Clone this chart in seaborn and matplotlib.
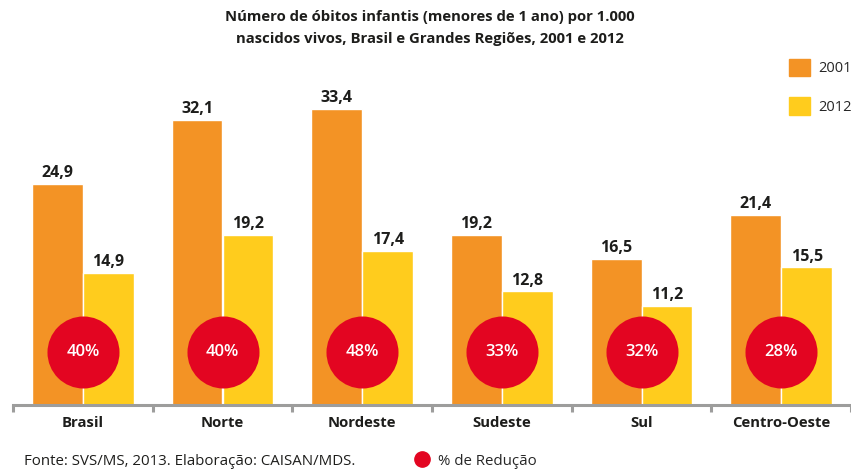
import numpy as np
import pandas as pd
import matplotlib
matplotlib.use("Agg")
import matplotlib.pyplot as plt
from matplotlib.patches import Patch
from matplotlib.lines import Line2D
import seaborn as sns

# dados do gráfico
regioes = ["Brasil", "Norte", "Nordeste", "Sudeste", "Sul", "Centro-Oeste"]
taxa_2001 = [24.9, 32.1, 33.4, 19.2, 16.5, 21.4]
taxa_2012 = [14.9, 19.2, 17.4, 12.8, 11.2, 15.5]
reducao = [40, 40, 48, 33, 32, 28]
anos = ["2001", "2012"]

cor_2001 = "#F39325"
cor_2012 = "#FFCC1D"
cor_red = "#E30521"
cinza = "#9D9D9C"
preto = "#1d1d1b"

df = pd.DataFrame({
    "regiao": regioes * 2,
    "ano": [anos[0]] * len(regioes) + [anos[1]] * len(regioes),
    "taxa": taxa_2001 + taxa_2012,
})

sns.set_style("white")
plt.rcParams["font.family"] = ["Open Sans", "DejaVu Sans"]

fig = plt.figure(figsize=(8.51, 4.69), dpi=100)
ax = fig.add_axes([13 / 851, 64 / 469, 838 / 851, 355 / 469])

sns.barplot(data=df, x="regiao", y="taxa", hue="ano", hue_order=anos,
            palette=[cor_2001, cor_2012], width=0.73, gap=0,
            saturation=1, legend=False, ax=ax)

for cont in ax.containers:
    vals = cont.datavalues
    ax.bar_label(cont, labels=[f"{v:.1f}".replace(".", ",") for v in vals],
                 padding=2, fontsize=11.5, fontweight="bold", color=preto)

# círculos de redução
xs = np.arange(len(regioes))
ax.scatter(xs, [6] * len(xs), s=2690, color=cor_red, zorder=5, linewidths=0)
for x, r in zip(xs, reducao):
    ax.text(x, 6, f"{r}%", ha="center", va="center", color="white",
            fontsize=12, fontweight="semibold", zorder=6)

ax.set_xlim(-0.5, len(regioes) - 0.5)
ax.set_ylim(0, 40)
ax.set_xlabel("")
ax.set_ylabel("")
ax.set_yticks([])
for s in ["top", "left", "right"]:
    ax.spines[s].set_visible(False)
ax.spines["bottom"].set_color(cinza)
ax.spines["bottom"].set_linewidth(2.2)

ax.set_xticks(xs)
ax.set_xticklabels(regioes, fontsize=10.7, fontweight="bold", color=preto)
ax.set_xticks(np.arange(-0.5, len(regioes)), minor=True)
ax.tick_params(axis="x", which="major", length=0, pad=8)
ax.tick_params(axis="x", which="minor", length=5, width=2.2, color=cinza,
               direction="out", bottom=True)

fig.text(0.505, 1 - 10 / 469,
         "Número de óbitos infantis (menores de 1 ano) por 1.000\n"
         "nascidos vivos, Brasil e Grandes Regiões, 2001 e 2012",
         ha="center", va="top", fontsize=10.7, fontweight="bold",
         color=preto, linespacing=1.75)

handles = [Patch(color=cor_2001, label=anos[0]),
           Patch(color=cor_2012, label=anos[1])]
fig.legend(handles=handles, loc="upper left",
           bbox_to_anchor=(783 / 851, 1 - 53 / 469), frameon=False,
           fontsize=10.5, handlelength=1.45, handleheight=1.45,
           labelspacing=1.45, handletextpad=0.55, borderaxespad=0)

fig.text(24 / 851, 1 - 461 / 469, "Fonte: SVS/MS, 2013. Elaboração: CAISAN/MDS.",
         ha="left", va="center", fontsize=10.8, color=preto)
fig.legend(handles=[Line2D([], [], marker="o", linestyle="", markersize=11,
                           color=cor_red, label="% de Redução")],
           loc="center left", bbox_to_anchor=(407 / 851, 1 - 461 / 469),
           frameon=False, fontsize=10.8, handletextpad=0.45,
           handlelength=1.2, borderaxespad=0)

fig.savefig("out.png", dpi=100)
